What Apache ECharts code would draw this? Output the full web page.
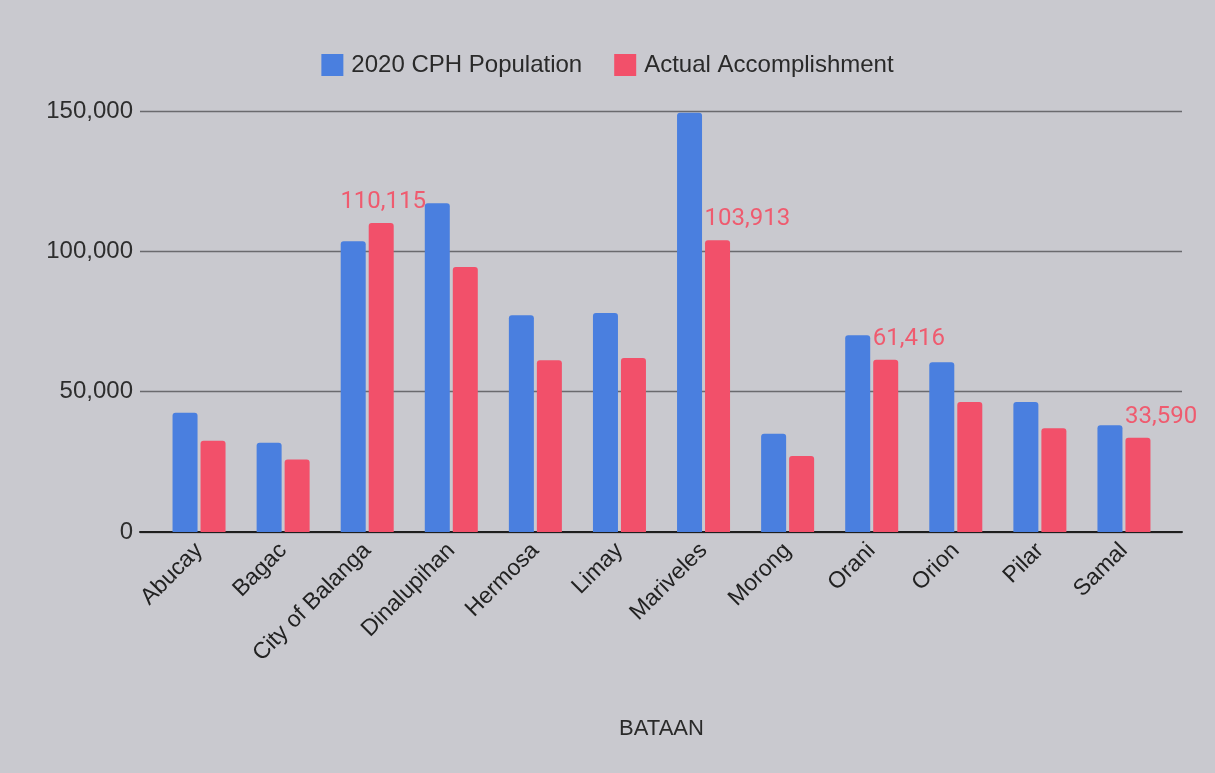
<!DOCTYPE html>
<html>
<head>
<meta charset="utf-8">
<script src="https://cdn.jsdelivr.net/npm/echarts@6/dist/echarts.min.js"></script>
<style>
html,body{margin:0;padding:0;background:#c9c9cf;}
#chart{width:1215px;height:773px;}
</style>
</head>
<body>
<div id="chart"></div>
<script>
const categories = ['Abucay','Bagac','City of Balanga','Dinalupihan','Hermosa','Limay','Mariveles','Morong','Orani','Orion','Pilar','Samal'];
const population = [42500, 31800, 103600, 117100, 77200, 78000, 149400, 35000, 70100, 60500, 46300, 38000];
const accomplishment = [32500, 25800, 110115, 94400, 61200, 62000, 103913, 27100, 61416, 46300, 37000, 33590];
const labeledCategories = ['City of Balanga','Mariveles','Orani','Samal'];
const yTicks = [0, 50000, 100000, 150000];
const seriesNames = ['2020 CPH Population','Actual Accomplishment'];
const axisTitle = 'BATAAN';

const BLUE = '#4a7fdf', RED = '#f2506a', LABEL_RED = '#ef5b6f';
const fmt = v => v.toLocaleString('en-US');

const centredLabels = ['City of Balanga'];
const redData = accomplishment.map((v, i) => {
  const cat = categories[i];
  if (!labeledCategories.includes(cat)) return v;
  const centred = centredLabels.includes(cat);
  return {
    value: v,
    label: {
      show: true, position: 'top', distance: 9,
      align: centred ? 'center' : 'left',
      offset: centred ? [2, 0] : [-13, 0],
      formatter: p => fmt(p.value),
      color: LABEL_RED, fontFamily: 'Roboto', fontSize: 24
    }
  };
});

const chart = echarts.init(document.getElementById('chart'));
chart.setOption({
  backgroundColor: '#c9c9cf',
  animation: false,
  legend: {
    top: 48, left: 'center', itemWidth: 22, itemHeight: 22, itemGap: 32,
    icon: 'rect',
    textStyle: {fontFamily: 'Liberation Sans', fontSize: 24, color: '#2a2a2a', padding: [0,0,0,3]},
    data: seriesNames
  },
  grid: [
    {left: 140, right: 33, top: 111, bottom: 241},
    {left: 157, right: 49, top: 111, bottom: 241}
  ],
  xAxis: [
    {gridIndex: 0, type: 'value', min: 0, max: 1,
     axisLine: {show: true, lineStyle: {color: '#1e1e1e', width: 2}},
     axisTick: {show: false}, axisLabel: {show: false}, splitLine: {show: false}},
    {gridIndex: 1, type: 'category', data: categories,
     axisLine: {show: false}, axisTick: {show: false},
     axisLabel: {rotate: 45, margin: 15, fontFamily: 'Liberation Sans', fontSize: 23, color: '#222', interval: 0},
     name: axisTitle, nameLocation: 'middle', nameGap: 186,
     nameTextStyle: {fontFamily: 'Liberation Sans', fontSize: 22, color: '#2a2a2a'}}
  ],
  yAxis: [
    {gridIndex: 0, type: 'value', min: yTicks[0], max: yTicks[yTicks.length-1], interval: yTicks[1]-yTicks[0],
     axisLine: {show: false}, axisTick: {show: false},
     axisLabel: {margin: 7, fontFamily: 'Liberation Sans', fontSize: 24, color: '#2e2e2e', formatter: v => fmt(v)},
     splitLine: {show: true, lineStyle: {color: '#6a6a6e', width: 1.3}}},
    {gridIndex: 1, type: 'value', min: yTicks[0], max: yTicks[yTicks.length-1],
     show: false, splitLine: {show: false}}
  ],
  series: [
    {name: seriesNames[0], type: 'bar', xAxisIndex: 1, yAxisIndex: 1, data: population,
     barWidth: 25, barGap: '12%', itemStyle: {color: BLUE, borderRadius: [3,3,0,0]}},
    {name: seriesNames[1], type: 'bar', xAxisIndex: 1, yAxisIndex: 1, data: redData,
     barWidth: 25, barGap: '12%', itemStyle: {color: RED, borderRadius: [3,3,0,0]}}
  ]
});
</script>
</body>
</html>
